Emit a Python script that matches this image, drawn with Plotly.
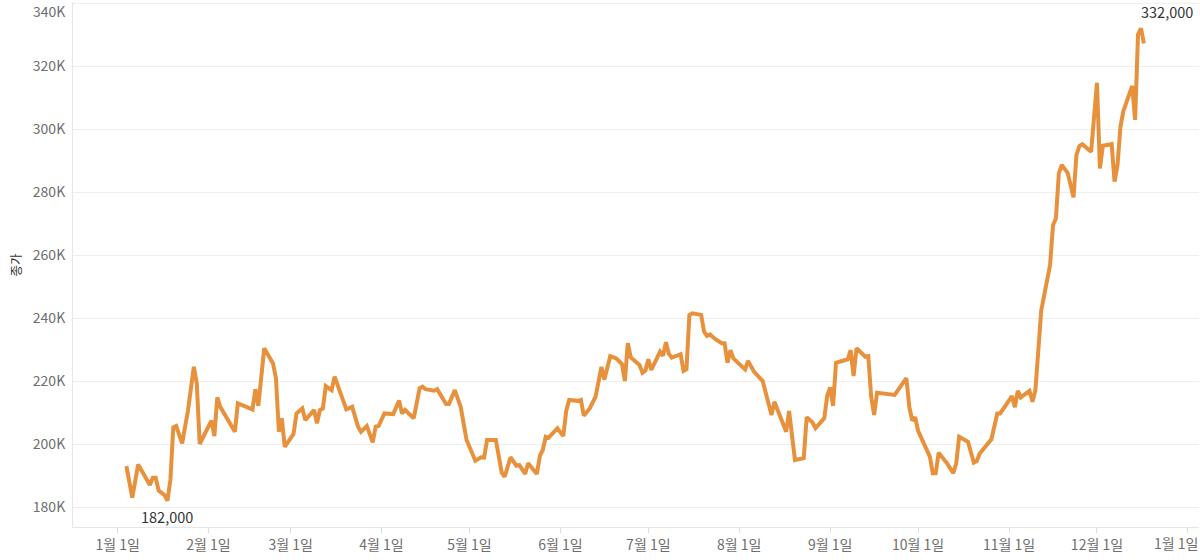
import plotly.graph_objects as go

dates = [
    "2021-01-04", "2021-01-06", "2021-01-08", "2021-01-12", "2021-01-13", "2021-01-14", "2021-01-15",
    "2021-01-17", "2021-01-18", "2021-01-19", "2021-01-20", "2021-01-21", "2021-01-23", "2021-01-25",
    "2021-01-27", "2021-01-28", "2021-01-29", "2021-02-02", "2021-02-03", "2021-02-04", "2021-02-05",
    "2021-02-08", "2021-02-10", "2021-02-11", "2021-02-16", "2021-02-17", "2021-02-18", "2021-02-20",
    "2021-02-23", "2021-02-24", "2021-02-25", "2021-02-26", "2021-02-27", "2021-03-02", "2021-03-03",
    "2021-03-05", "2021-03-06", "2021-03-09", "2021-03-10", "2021-03-11", "2021-03-12", "2021-03-13",
    "2021-03-15", "2021-03-16", "2021-03-19", "2021-03-20", "2021-03-22", "2021-03-24", "2021-03-25",
    "2021-03-27", "2021-03-29", "2021-03-30", "2021-03-31", "2021-04-02", "2021-04-05", "2021-04-07",
    "2021-04-08", "2021-04-09", "2021-04-12", "2021-04-14", "2021-04-15", "2021-04-16", "2021-04-19",
    "2021-04-20", "2021-04-23", "2021-04-24", "2021-04-26", "2021-04-28", "2021-04-30", "2021-05-03",
    "2021-05-05", "2021-05-06", "2021-05-07", "2021-05-10", "2021-05-12", "2021-05-13", "2021-05-15",
    "2021-05-17", "2021-05-18", "2021-05-20", "2021-05-21", "2021-05-24", "2021-05-25", "2021-05-26",
    "2021-05-27", "2021-05-28", "2021-05-31", "2021-06-02", "2021-06-03", "2021-06-04", "2021-06-07",
    "2021-06-08", "2021-06-09", "2021-06-11", "2021-06-13", "2021-06-14", "2021-06-15", "2021-06-16",
    "2021-06-18", "2021-06-20", "2021-06-22", "2021-06-23", "2021-06-24", "2021-06-25", "2021-06-28",
    "2021-06-29", "2021-06-30", "2021-07-01", "2021-07-02", "2021-07-05", "2021-07-06", "2021-07-07",
    "2021-07-08", "2021-07-09", "2021-07-12", "2021-07-13", "2021-07-14", "2021-07-15", "2021-07-16",
    "2021-07-19", "2021-07-20", "2021-07-21", "2021-07-22", "2021-07-24", "2021-07-26", "2021-07-27",
    "2021-07-28", "2021-07-29", "2021-07-30", "2021-08-03", "2021-08-04", "2021-08-06", "2021-08-08",
    "2021-08-09", "2021-08-12", "2021-08-13", "2021-08-17", "2021-08-18", "2021-08-20", "2021-08-23",
    "2021-08-24", "2021-08-26", "2021-08-27", "2021-08-30", "2021-08-31", "2021-09-01", "2021-09-02",
    "2021-09-03", "2021-09-07", "2021-09-08", "2021-09-09", "2021-09-10", "2021-09-13", "2021-09-14",
    "2021-09-15", "2021-09-16", "2021-09-17", "2021-09-23", "2021-09-27", "2021-09-28", "2021-09-29",
    "2021-09-30", "2021-10-01", "2021-10-05", "2021-10-06", "2021-10-07", "2021-10-08", "2021-10-11",
    "2021-10-13", "2021-10-14", "2021-10-15", "2021-10-18", "2021-10-20", "2021-10-21", "2021-10-22",
    "2021-10-26", "2021-10-28", "2021-10-29", "2021-11-02", "2021-11-03", "2021-11-04", "2021-11-05",
    "2021-11-08", "2021-11-09", "2021-11-10", "2021-11-12", "2021-11-15", "2021-11-16", "2021-11-17",
    "2021-11-18", "2021-11-19", "2021-11-21", "2021-11-23", "2021-11-24", "2021-11-25", "2021-11-26",
    "2021-11-29", "2021-12-01", "2021-12-02", "2021-12-03", "2021-12-06", "2021-12-07", "2021-12-08",
    "2021-12-09", "2021-12-10", "2021-12-13", "2021-12-14", "2021-12-15", "2021-12-16", "2021-12-17",
]

close_prices = [
    193000, 183000, 193500, 187000, 189300, 189300, 185200,
    183800, 182000, 188600, 205300, 205700, 200200, 210600,
    224500, 219300, 200000, 207400, 202500, 214800, 211800,
    207100, 203900, 212900, 211000, 217400, 212100, 230400,
    225600, 220900, 203900, 208200, 199100, 203200, 209700,
    211300, 207600, 210800, 206600, 210800, 211300, 218400,
    217100, 221400, 213400, 211000, 211800, 205500, 203900,
    205700, 200500, 205500, 205700, 209700, 209500, 213800,
    209700, 210800, 208200, 217700, 218200, 217400, 216900,
    217400, 212700, 212700, 217100, 211800, 201300, 194700,
    195800, 195700, 201300, 201300, 190900, 189600, 195800,
    193100, 193300, 190500, 193900, 190500, 196200, 198100,
    202300, 202000, 205000, 202500, 210600, 214000, 213700,
    214000, 209000, 211300, 215000, 219800, 224500, 220500,
    227900, 227200, 225400, 220000, 232000, 227500, 225100,
    222600, 223300, 226900, 223500, 229300, 228000, 232300,
    228600, 227400, 228500, 223200, 223700, 241000, 241500,
    241000, 235700, 234300, 234800, 233200, 232000, 232000,
    225800, 229800, 227200, 223700, 226400, 223000, 221200,
    220000, 209200, 213400, 203900, 210500, 194900, 195500,
    208500, 206800, 205000, 208200, 215300, 218000, 212100,
    225800, 226900, 229800, 221600, 230400, 227700, 227900,
    215000, 209200, 216300, 215600, 220900, 211800, 207400,
    208500, 204200, 196000, 190700, 190700, 197200, 193700,
    190700, 193900, 202300, 200700, 194100, 194600, 197000,
    201500, 209700, 209700, 215200, 211700, 216900, 214800,
    216900, 213400, 217100, 242500, 256800, 269500, 271700,
    286000, 288600, 286100, 278300, 291800, 294600, 295200,
    292800, 314700, 287500, 294700, 295200, 283300, 288600,
    300700, 305700, 313700, 302900, 330000, 332000, 327200,
]

x_tick_vals = ["2021-01-01", "2021-02-01", "2021-03-01", "2021-04-01", "2021-05-01", "2021-06-01",
               "2021-07-01", "2021-08-01", "2021-09-01", "2021-10-01", "2021-11-01", "2021-12-01",
               "2022-01-01"]
x_tick_text = ["1월 1일", "2월 1일", "3월 1일", "4월 1일", "5월 1일", "6월 1일", "7월 1일",
               "8월 1일", "9월 1일", "10월 1일", "11월 1일", "12월 1일", "1월 1일"]
y_tick_vals = [180000, 200000, 220000, 240000, 260000, 280000, 300000, 320000, 340000]
y_tick_text = ["180K", "200K", "220K", "240K", "260K", "280K", "300K", "320K", "340K"]

y_title = "종가"

FONT = "Noto Sans CJK KR, Noto Sans, sans-serif"
LINE_COLOR = "#E8913D"
TICK_COLOR = "#6e6e6e"
TICK_SIZE = 14

W, H = 1200, 560
ML, MR, MT, MB = 73, 1, 2, 33
PW = W - ML - MR
PH = H - MT - MB

fig = go.Figure()
fig.add_trace(go.Scatter(
    x=dates, y=close_prices, mode="lines",
    line=dict(color=LINE_COLOR, width=4),
    showlegend=False,
))

# min / max labels
min_i = close_prices.index(min(close_prices))
max_i = close_prices.index(max(close_prices))
fig.add_annotation(x=dates[min_i], y=close_prices[min_i], text=f"{close_prices[min_i]:,}",
                   showarrow=False, yshift=-16, xanchor="center",
                   font=dict(family=FONT, size=14.5, color="#333333"))
fig.add_annotation(x=dates[max_i], y=close_prices[max_i], text=f"{close_prices[max_i]:,}",
                   showarrow=False, yshift=17, xshift=-2, xanchor="left",
                   font=dict(family=FONT, size=14.5, color="#333333"))

# y axis title
fig.add_annotation(xref="paper", yref="paper", x=(15 - ML) / PW, y=0.5, text=y_title,
                   textangle=-90, showarrow=False, xanchor="center", yanchor="middle",
                   font=dict(family=FONT, size=12.5, color="#333333"))

# the 340K label sits just inside the top edge in the reference
fig.add_annotation(xref="paper", yref="paper", x=0, xshift=-6, y=1, yshift=-9,
                   text=y_tick_text[-1], showarrow=False, xanchor="right", yanchor="middle",
                   font=dict(family=FONT, size=TICK_SIZE, color=TICK_COLOR))
y_tick_text_drawn = y_tick_text[:-1] + [""]

# last x tick label kept inside the chart like the reference
fig.add_annotation(xref="paper", yref="paper", x=(1176 - ML) / PW, y=0, yshift=-16,
                   text=x_tick_text[-1], showarrow=False, xanchor="center", yanchor="middle",
                   font=dict(family=FONT, size=TICK_SIZE, color=TICK_COLOR))
x_tick_text_drawn = x_tick_text[:-1] + [""]

fig.update_layout(
    width=W, height=H,
    margin=dict(l=ML, r=MR, t=MT, b=MB, autoexpand=False),
    paper_bgcolor="white", plot_bgcolor="white",
    font=dict(family=FONT, size=TICK_SIZE, color=TICK_COLOR),
)
fig.update_xaxes(
    range=["2020-12-16 19:00", "2022-01-04 19:00"],
    tickvals=x_tick_vals, ticktext=x_tick_text_drawn,
    showgrid=False, ticks="outside", ticklen=5, tickcolor="#dddddd",
    showline=True, linecolor="#e6e6e6", linewidth=1,
    tickfont=dict(family=FONT, size=TICK_SIZE, color=TICK_COLOR),
    zeroline=False, automargin=False,
)
fig.update_yaxes(
    range=[173650, 340340],
    tickvals=y_tick_vals, ticktext=y_tick_text_drawn,
    showgrid=True, gridcolor="#efefef", gridwidth=1,
    showline=True, linecolor="#e6e6e6", linewidth=1,
    ticks="", zeroline=False, automargin=False, ticklabelstandoff=4,
    tickfont=dict(family=FONT, size=TICK_SIZE, color=TICK_COLOR),
)

fig.write_html(
    "out.html",
    config={"displayModeBar": False},
    post_script="document.body.style.margin='0';document.body.style.padding='0';",
)
